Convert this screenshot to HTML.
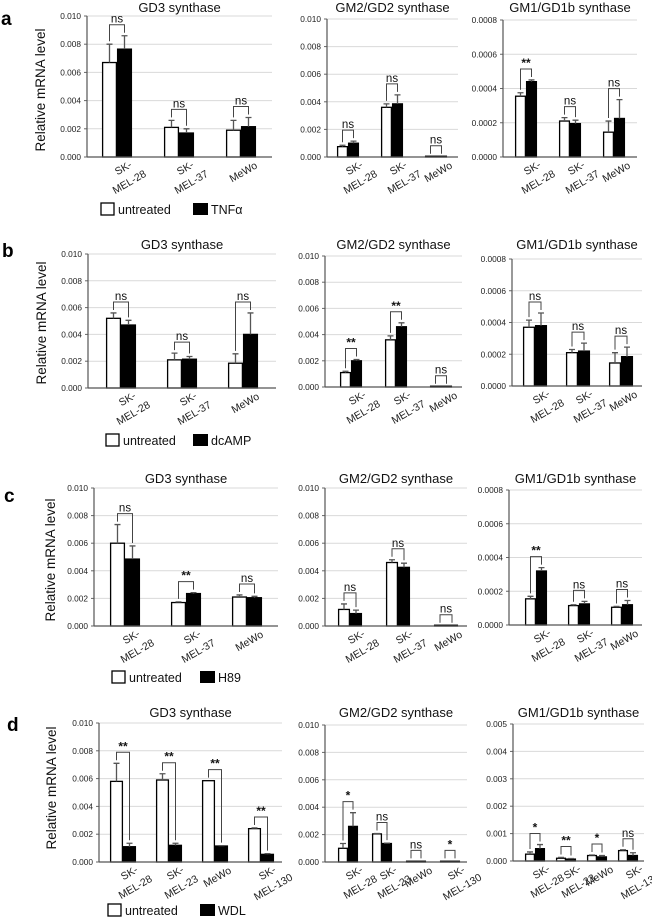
<!DOCTYPE html>
<html><head><meta charset="utf-8">
<style>
html,body{margin:0;padding:0;background:#fff;}
svg{display:block;font-family:"Liberation Sans",sans-serif;}
</style></head>
<body>
<svg id="fig" width="652" height="918" viewBox="0 0 652 918" xmlns="http://www.w3.org/2000/svg"></svg>
<script>
// ---------- DATA ----------
const cats3 = ["SK-MEL-28","SK-MEL-37","MeWo"];
const cats4 = ["SK-MEL-28","SK-MEL-23","MeWo","SK-MEL-130"];
const ticksGD = ["0.000","0.002","0.004","0.006","0.008","0.010"];
const ticksGM1 = ["0.0000","0.0002","0.0004","0.0006","0.0008"];
const ticksGM1d = ["0.000","0.001","0.002","0.003","0.004","0.005"];
const treatments = ["TNFα","dcAMP","H89","WDL"];
// values in units of 1e-3 (GD3, GM2, d-GM1) or 1e-4 (GM1 rows a-c)
const aGD3U=[6.7,2.1,1.9], aGD3T=[7.65,1.7,2.15], aGD3UE=[1.3,0.5,0.7], aGD3TE=[0.95,0.3,0.65], aGD3S=["ns","ns","ns"];
const aGM2U=[0.75,3.6,0.02], aGM2T=[1.0,3.85,0.02], aGM2UE=[0.1,0.25,0], aGM2TE=[0.15,0.65,0], aGM2S=["ns","ns","ns"];
const aGM1U=[3.55,2.1,1.45], aGM1T=[4.4,1.95,2.25], aGM1UE=[0.2,0.2,0.65], aGM1TE=[0.1,0.2,1.1], aGM1S=["**","ns","ns"];
const bGD3U=[5.2,2.1,1.85], bGD3T=[4.7,2.15,4.0], bGD3UE=[0.4,0.5,0.7], bGD3TE=[0.35,0.2,1.6], bGD3S=["ns","ns","ns"];
const bGM2U=[1.1,3.6,0.02], bGM2T=[2.0,4.6,0.02], bGM2UE=[0.1,0.3,0], bGM2TE=[0.1,0.3,0], bGM2S=["**","**","ns"];
const bGM1U=[3.7,2.1,1.45], bGM1T=[3.8,2.2,1.85], bGM1UE=[0.45,0.2,0.65], bGM1TE=[0.8,0.5,0.6], bGM1S=["ns","ns","ns"];
const cGD3U=[6.0,1.7,2.1], cGD3T=[4.85,2.35,2.05], cGD3UE=[1.35,0.05,0.15], cGD3TE=[0.95,0.07,0.1], cGD3S=["ns","**","ns"];
const cGM2U=[1.2,4.6,0.02], cGM2T=[0.9,4.25,0.02], cGM2UE=[0.4,0.2,0], cGM2TE=[0.25,0.3,0], cGM2S=["ns","ns","ns"];
const cGM1U=[1.55,1.15,1.05], cGM1T=[3.2,1.25,1.2], cGM1UE=[0.15,0.05,0.05], cGM1TE=[0.2,0.15,0.25], cGM1S=["**","ns","ns"];
const dGD3U=[5.8,5.9,5.85,2.4], dGD3T=[1.1,1.2,1.15,0.55], dGD3UE=[1.3,0.45,0,0.05], dGD3TE=[0.25,0.15,0.03,0.05], dGD3S=["**","**","**","**"];
const dGM2U=[1.0,2.05,0.05,0.05], dGM2T=[2.6,1.35,0.05,0.05], dGM2UE=[0.35,0.03,0,0], dGM2TE=[1.0,0.03,0,0], dGM2S=["*","ns","ns","*"];
const dGM1U=[0.25,0.1,0.2,0.38], dGM1T=[0.45,0.07,0.15,0.2], dGM1UE=[0.08,0.03,0.02,0.03], dGM1TE=[0.15,0.02,0.05,0.1], dGM1S=["*","**","*","ns"];

// ---------- LAYOUT ----------
const NS="http://www.w3.org/2000/svg";
const svg=document.getElementById('fig');
function mk(tag,attrs,parent){const e=document.createElementNS(NS,tag);for(const k in attrs)e.setAttribute(k,attrs[k]);(parent||svg).appendChild(e);return e;}

const panels=[
 {id:"a-gd3",title:"GD3 synthase",cats:cats3,u:aGD3U,t:aGD3T,ue:aGD3UE,te:aGD3TE,s:aGD3S,ticks:ticksGD,max:10,ax:87,right:272,top:16,bottom:157,c0:117,dc:62,w:15,ty:12},
 {id:"a-gm2",title:"GM2/GD2 synthase",cats:cats3,u:aGM2U,t:aGM2T,ue:aGM2UE,te:aGM2TE,s:aGM2S,ticks:ticksGD,max:10,ax:327,right:458,top:19,bottom:157,c0:348,dc:44,w:11,ty:12},
 {id:"a-gm1",title:"GM1/GD1b synthase",cats:cats3,u:aGM1U,t:aGM1T,ue:aGM1UE,te:aGM1TE,s:aGM1S,ticks:ticksGM1,max:8,ax:503,right:637,top:20,bottom:157,c0:526,dc:44,w:11,ty:12},
 {id:"b-gd3",title:"GD3 synthase",cats:cats3,u:bGD3U,t:bGD3T,ue:bGD3UE,te:bGD3TE,s:bGD3S,ticks:ticksGD,max:10,ax:88,right:276,top:254,bottom:388,c0:121,dc:61,w:15,ty:249},
 {id:"b-gm2",title:"GM2/GD2 synthase",cats:cats3,u:bGM2U,t:bGM2T,ue:bGM2UE,te:bGM2TE,s:bGM2S,ticks:ticksGD,max:10,ax:325,right:462,top:256,bottom:387,c0:351,dc:45,w:11,ty:249},
 {id:"b-gm1",title:"GM1/GD1b synthase",cats:cats3,u:bGM1U,t:bGM1T,ue:bGM1UE,te:bGM1TE,s:bGM1S,ticks:ticksGM1,max:8,ax:512,right:642,top:259,bottom:386,c0:535,dc:43,w:12,ty:249},
 {id:"c-gd3",title:"GD3 synthase",cats:cats3,u:cGD3U,t:cGD3T,ue:cGD3UE,te:cGD3TE,s:cGD3S,ticks:ticksGD,max:10,ax:94,right:278,top:488,bottom:626,c0:125,dc:61,w:15,ty:483},
 {id:"c-gm2",title:"GM2/GD2 synthase",cats:cats3,u:cGM2U,t:cGM2T,ue:cGM2UE,te:cGM2TE,s:cGM2S,ticks:ticksGD,max:10,ax:325,right:467,top:488,bottom:626,c0:350,dc:48,w:12,ty:483},
 {id:"c-gm1",title:"GM1/GD1b synthase",cats:cats3,u:cGM1U,t:cGM1T,ue:cGM1UE,te:cGM1TE,s:cGM1S,ticks:ticksGM1,max:8,ax:509,right:642,top:490,bottom:625,c0:536,dc:43,w:11,ty:483},
 {id:"d-gd3",title:"GD3 synthase",cats:cats4,u:dGD3U,t:dGD3T,ue:dGD3UE,te:dGD3TE,s:dGD3S,ticks:ticksGD,max:10,ax:99,right:282,top:723,bottom:862,c0:123,dc:46,w:13,ty:717},
 {id:"d-gm2",title:"GM2/GD2 synthase",cats:cats4,u:dGM2U,t:dGM2T,ue:dGM2UE,te:dGM2TE,s:dGM2S,ticks:ticksGD,max:10,ax:325,right:467,top:725,bottom:862,c0:348,dc:34,w:10,ty:717},
 {id:"d-gm1",title:"GM1/GD1b synthase",cats:cats4,u:dGM1U,t:dGM1T,ue:dGM1UE,te:dGM1TE,s:dGM1S,ticks:ticksGM1d,max:5,ax:513,right:644,top:724,bottom:861,c0:535,dc:31,w:10,ty:717}
];

function drawPanel(p){
  const g=mk('g',{});
  
  
  const y=v=>p.bottom-v/p.max*(p.bottom-p.top);
  const n=p.ticks.length-1;
  const tt=mk('text',{x:(p.ax+p.right)/2,y:p.ty,'text-anchor':'middle','font-size':13,fill:'#111'},g);
  tt.textContent=p.title;
  
  
  p.ticks.forEach((lab,i)=>{
    const v=p.max*i/n, yy=y(v);
    if(i>0){const gl=mk('line',{x1:p.ax,x2:p.right,y1:yy,y2:yy,stroke:'#d9d9d9','stroke-width':1},g);
      
      }
    const tk=mk('line',{x1:p.ax-3,x2:p.ax,y1:yy,y2:yy,stroke:'#666','stroke-width':1},g);
    
    
    const tl=mk('text',{x:p.ax-6,y:yy+3,'text-anchor':'end','font-size':8.3,fill:'#222'},g);
    tl.textContent=lab;
    
    
  });
  const ya=mk('line',{x1:p.ax,x2:p.ax,y1:p.top,y2:p.bottom,stroke:'#555','stroke-width':1.2},g);
  
  
  p.cats.forEach((c,i)=>{
    const cx=p.c0+i*p.dc;
    const series=[[p.u[i],p.ue[i],cx-p.w,'#fff','bar-untreated'],[p.t[i],p.te[i],cx,'#000','bar-treated']];
    series.forEach(sr=>{
      const [v,e,x,f,nm]=sr;
      const yv=y(v), h=Math.max(p.bottom-yv,0.8);
      const r=mk('rect',{x:x+0.6,y:p.bottom-h,width:p.w-1.2,height:h,fill:f,stroke:'#000','stroke-width':1.3},g);
      
      
      if(e>0){
        const ex=x+p.w/2, ye=y(v+e);
        const el=mk('path',{d:`M${ex},${yv} V${ye} M${ex-3},${ye} H${ex+3}`,stroke:'#555','stroke-width':1.3,fill:'none'},g);
        
        
      }
    });
    const yu=y(p.u[i]+p.ue[i]), yt=y(p.t[i]+p.te[i]);
    const top=Math.min(yu,yt)-11;
    const lx=cx-p.w/2, rx=cx+p.w/2;
    const br=mk('path',{d:`M${lx},${yu-3} V${top} H${rx} V${yt-3}`,stroke:'#444','stroke-width':1,fill:'none'},g);
    
    
    const st=mk('text',{x:cx,y:top-2,'text-anchor':'middle','font-size':p.s[i]==='ns'?11.5:12,'font-weight':p.s[i]==='ns'?'normal':'bold',fill:'#111'},g);
    st.textContent=p.s[i];
    
    
    const parts=c.startsWith('SK')?['SK-',c.slice(3)]:[c];
    const b=p.bottom;
    if(parts.length===2){
      const t1=mk('text',{x:cx+8,y:b+14,'text-anchor':'middle','font-size':10.5,fill:'#222',transform:`rotate(-30 ${cx+8} ${b+14})`},g);
      t1.textContent=parts[0];
      
      
      const t2=mk('text',{x:cx+14,y:b+28,'text-anchor':'middle','font-size':10.5,fill:'#222',transform:`rotate(-30 ${cx+14} ${b+28})`},g);
      t2.textContent=parts[1];
      
      
    } else {
      const t1=mk('text',{x:cx+4,y:b+18,'text-anchor':'middle','font-size':10.5,fill:'#222',transform:`rotate(-30 ${cx+4} ${b+18})`},g);
      t1.textContent=parts[0];
      
      
    }
  });
  const xa=mk('line',{x1:p.ax,x2:p.right,y1:p.bottom,y2:p.bottom,stroke:'#555','stroke-width':1.2},g);
  
  
}
panels.forEach(drawPanel);

const rows=[
 {L:'a',lx:1,ly:25,yx:45,yc:90,wb:101,bb:193,legY:203},
 {L:'b',lx:2,ly:257,yx:46,yc:323,wb:106,bb:193,legY:434},
 {L:'c',lx:4,ly:502,yx:55,yc:560,wb:112,bb:200,legY:671},
 {L:'d',lx:7,ly:731,yx:56,yc:788,wb:108,bb:200,legY:904}
];
rows.forEach((r,i)=>{
  const lt=mk('text',{x:r.lx,y:r.ly,'font-size':19,'font-weight':'bold',fill:'#000'});
  lt.textContent=r.L;
  
  
  const yt=mk('text',{x:r.yx,y:r.yc,'text-anchor':'middle','font-size':13.5,fill:'#111',transform:`rotate(-90 ${r.yx} ${r.yc})`});
  yt.textContent='Relative mRNA level';
  
  
  const lg=mk('g',{});
  
  
  const wbx=mk('rect',{x:r.wb,y:r.legY,width:13,height:12,fill:'#fff',stroke:'#000','stroke-width':1.3},lg);
  
  
  const wt=mk('text',{x:r.wb+17,y:r.legY+11,'font-size':12.5,fill:'#111'},lg);
  wt.textContent='untreated';
  
  
  const bbx=mk('rect',{x:r.bb,y:r.legY,width:15,height:12,fill:'#000'},lg);
  
  
  const bt=mk('text',{x:r.bb+18,y:r.legY+11,'font-size':12.5,fill:'#111'},lg);
  bt.textContent=treatments[i];
  
  
});
</script>
</body></html>
